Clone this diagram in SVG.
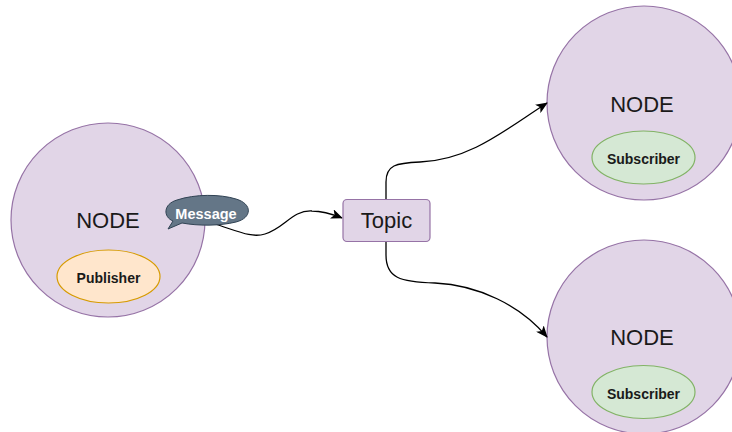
<svg xmlns="http://www.w3.org/2000/svg" width="732" height="432" viewBox="0 0 732 432">
<defs>
<style>
.node{fill:#e1d5e7;stroke:#9673a6;stroke-width:1.2}
.pub{fill:#ffe6cc;stroke:#d79b00;stroke-width:1.2}
.sub{fill:#d5e8d4;stroke:#82b366;stroke-width:1.2}
.msg{fill:#647687;stroke:#314354;stroke-width:1}
.big{font-family:"Liberation Sans",Arial,sans-serif;font-size:22px;fill:#1a1a1a;text-anchor:middle}
.small{font-family:"Liberation Sans",Arial,sans-serif;font-size:14px;font-weight:bold;fill:#1a1a1a;text-anchor:middle}
.msgt{font-family:"Liberation Sans",Arial,sans-serif;font-size:14.5px;font-weight:bold;fill:#ffffff;text-anchor:middle}
.edge{fill:none;stroke:#000;stroke-width:1.3}
</style>
<marker id="arr" viewBox="0 0 12 10" refX="11" refY="5" markerWidth="12" markerHeight="10" markerUnits="userSpaceOnUse" orient="auto">
<path d="M0,0 L12,5 L0,10 L3,5 Z" fill="#000"/>
</marker>
</defs>
<rect width="732" height="432" fill="#ffffff"/>
<g id="node-left">
<circle class="node" cx="108" cy="220" r="97"/>
<text class="big" x="108" y="228">NODE</text>
<g id="publisher">
<ellipse class="pub" cx="108.5" cy="276.5" rx="51.5" ry="26.5"/>
<text class="small" x="108.5" y="283">Publisher</text>
</g>
</g>
<g id="node-top">
<circle class="node" cx="644" cy="103" r="97"/>
<text class="big" x="642" y="112">NODE</text>
<g id="subscriber-top">
<ellipse class="sub" cx="643.5" cy="157.5" rx="51.5" ry="26.5"/>
<text class="small" x="643.5" y="164">Subscriber</text>
</g>
</g>
<g id="node-bottom">
<circle class="node" cx="644" cy="337" r="97"/>
<text class="big" x="642" y="345">NODE</text>
<g id="subscriber-bottom">
<ellipse class="sub" cx="643.5" cy="392" rx="51.5" ry="26.5"/>
<text class="small" x="643.5" y="398.5">Subscriber</text>
</g>
</g>
<g id="connectors">
<path class="edge" d="M215,224 C240,232 252,238 265,234 C285,228 292,210 312,211 C322,211 332,214 342,218" marker-end="url(#arr)"/>
<path class="edge" d="M386,200 L386,182 C386,165 396,163 420,162 C470,160 505,130 547,103" marker-end="url(#arr)"/>
<path class="edge" d="M386,242 L386,255 C386,278 400,282 435,283 C478,285 520,305 547,337" marker-end="url(#arr)"/>
</g>
<g id="message">
<path class="msg" d="M173,221 C163,217 163,204 177,200 C195,194 220,194 236,199 C253,204 252,218 236,222 C220,226 198,226 182,223 L168,229 Z"/>
<text class="msgt" x="206" y="219">Message</text>
</g>
<g id="topic">
<rect class="node" x="343" y="199.5" width="87" height="42" rx="4"/>
<text class="big" x="386.5" y="228">Topic</text>
</g>
</svg>
